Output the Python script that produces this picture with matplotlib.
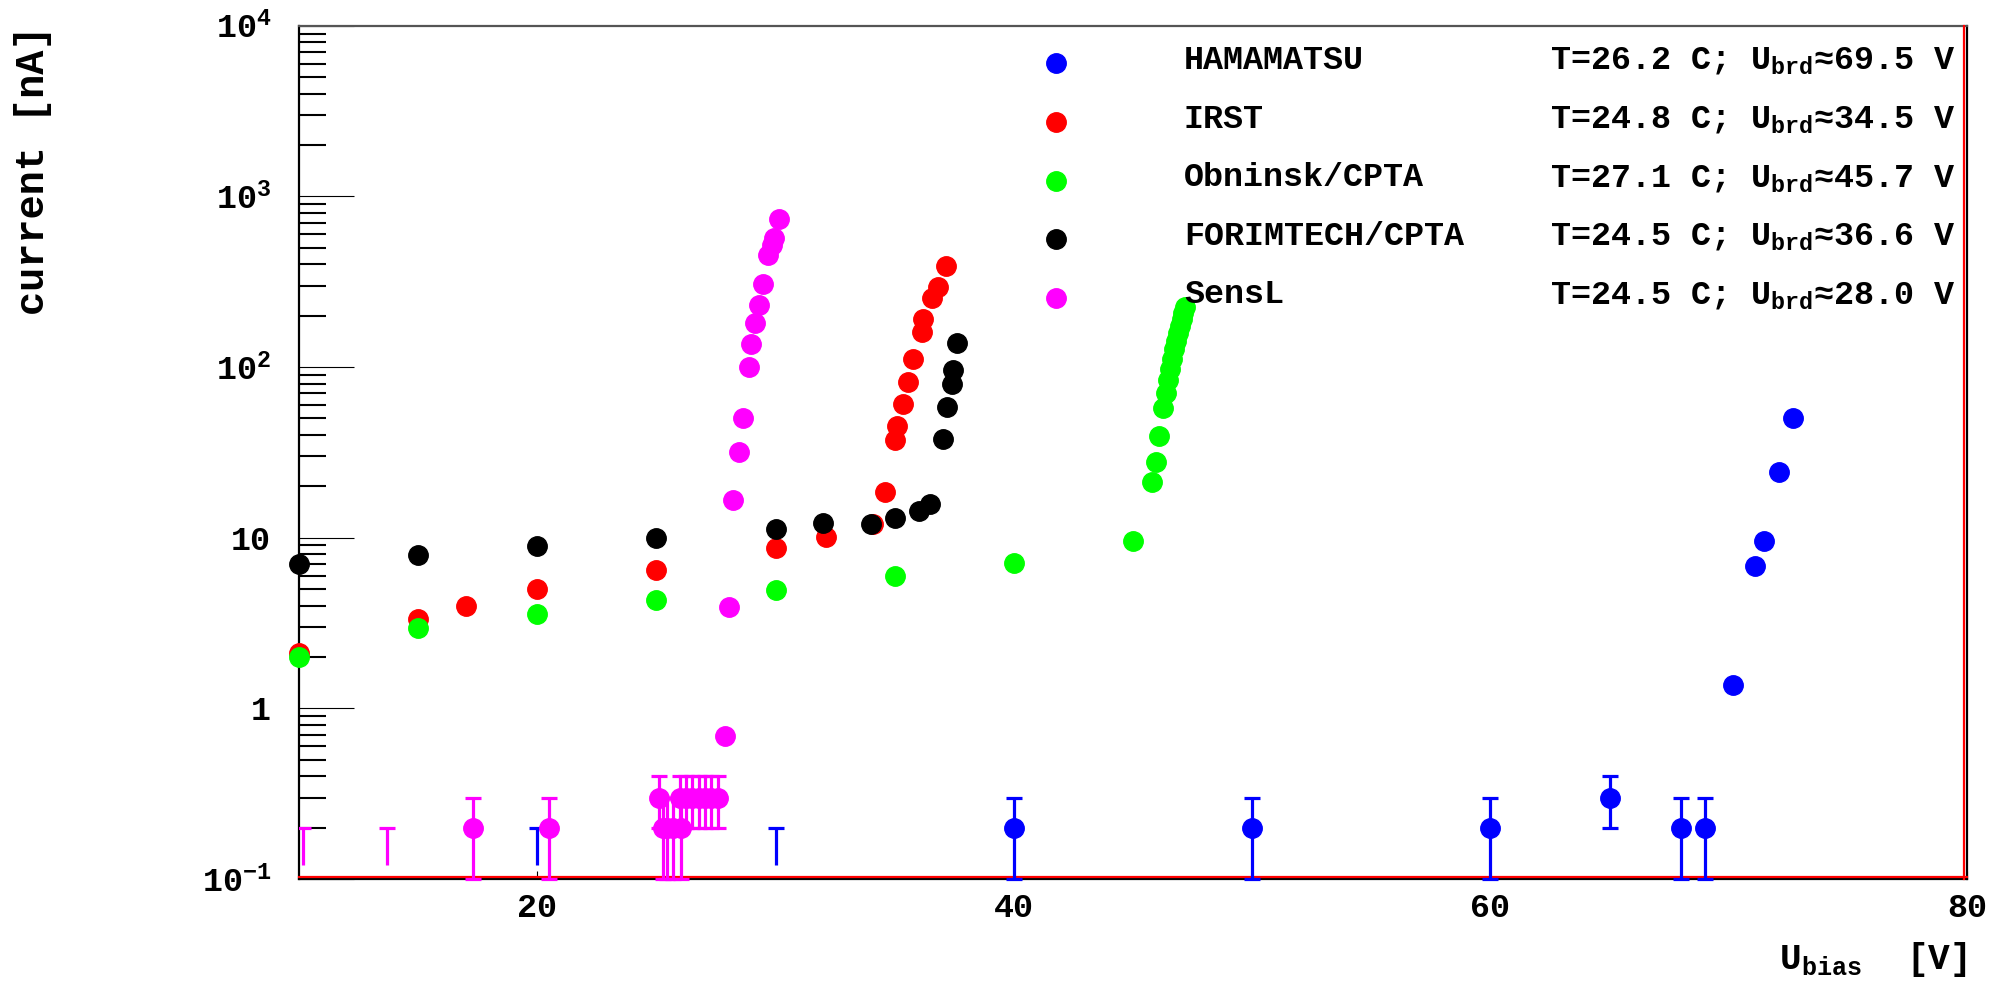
import numpy as np
import matplotlib
matplotlib.use("Agg")
import matplotlib.pyplot as plt

# ---------------- data ----------------
ham_x = [20, 30, 40, 50, 60, 65, 68, 69, 70.2, 71.1, 71.5, 72.1, 72.7]
ham_y = [0.1, 0.1, 0.2, 0.2, 0.2, 0.3, 0.2, 0.2, 1.37, 6.8, 9.6, 24.4, 50.0]
ham_err = [0.1, 0.1, 0.1, 0.1, 0.1, 0.1, 0.1, 0.1, 0, 0, 0, 0, 0]

irst_x = [10, 15, 17, 20, 25, 30, 32.1, 34.1, 34.6, 35.0, 35.1, 35.36, 35.54,
          35.78, 36.13, 36.2, 36.55, 36.8, 37.15]
irst_y = [2.1, 3.35, 4.0, 5.0, 6.5, 8.7, 10.1, 12.0, 18.4, 37.4, 45.2, 60.8, 81.5,
          112, 161, 190, 253, 293, 391]
irst_err = [0] * len(irst_x)

obn_x = [10, 15, 20, 25, 30, 35, 40, 45, 45.78, 45.96, 46.1, 46.27, 46.38, 46.48,
         46.56, 46.64, 46.72, 46.8, 46.88, 46.96, 47.04, 47.11, 47.18]
obn_y = [2.0, 2.95, 3.55, 4.3, 4.95, 6.0, 7.1, 9.6, 21.3, 27.9, 39.6, 57.4, 70, 84,
         98, 112, 128, 142, 158, 175, 192, 208, 226]
obn_err = [0] * len(obn_x)

fori_x = [10, 15, 20, 25, 30, 32, 34, 35, 36, 36.5, 37.04, 37.18, 37.39, 37.46, 37.6]
fori_y = [7.0, 7.9, 8.9, 9.9, 11.2, 12.2, 12.0, 13.0, 14.3, 15.7, 37.9, 58.6, 79.6,
          96.2, 139]
fori_err = [0] * len(fori_x)

sens_x = [10.15, 13.7, 17.3, 20.5, 25.1, 25.26, 25.45, 25.69, 26.04, 26.0, 26.25,
          26.5, 26.8, 27.05, 27.3, 27.6, 27.88, 28.06, 28.23, 28.48, 28.65, 28.88,
          28.97, 29.14, 29.3, 29.48, 29.7, 29.85, 29.95, 30.15]
sens_y = [0.1, 0.1, 0.2, 0.2, 0.3, 0.2, 0.2, 0.2, 0.2, 0.3, 0.3, 0.3, 0.3, 0.3, 0.3,
          0.3, 0.687, 3.95, 16.7, 31.8, 50.6, 100, 137, 180, 232, 308, 452, 520,
          573, 734]
sens_err = [0.1] * 16 + [0] * 14

names = ["HAMAMATSU", "IRST", "Obninsk/CPTA", "FORIMTECH/CPTA", "SensL"]
temps = [26.2, 24.8, 27.1, 24.5, 24.5]
ubrd = [69.5, 34.5, 45.7, 36.6, 28.0]
colors = ["#0000ff", "#ff0000", "#00ff00", "#000000", "#ff00ff"]

xticks = [20, 40, 60, 80]
xticklabels = ["20", "40", "60", "80"]
yticks = [0.1, 1, 10, 100, 1000, 10000]
yticklabels = [r"$\mathregular{10^{-1}}$", "1", "10", r"$\mathregular{10^{2}}$",
               r"$\mathregular{10^{3}}$", r"$\mathregular{10^{4}}$"]

# ---------------- style ----------------
plt.rcParams["font.family"] = ["Liberation Mono", "DejaVu Sans Mono"]
plt.rcParams["font.weight"] = "bold"
plt.rcParams["mathtext.default"] = "regular"

W, H = 1997, 989
fig = plt.figure(figsize=(W / 100, H / 100), dpi=100)
L, R, T, B = 299, 1967, 25.7, 879
ax = fig.add_axes([L / W, 1 - B / H, (R - L) / W, (B - T) / H])
ax.set_yscale("log")
ax.set_xlim(10, 80)
ax.set_ylim(0.1, 1e4)
YMIN = 0.1
GAP = 1.2
MS = 14

series = [
    (ham_x, ham_y, ham_err),
    (irst_x, irst_y, irst_err),
    (obn_x, obn_y, obn_err),
    (fori_x, fori_y, fori_err),
    (sens_x, sens_y, sens_err),
]

for (xs, ys, es), c in zip(series, colors):
    x = np.asarray(xs, float)
    y = np.asarray(ys, float)
    e = np.asarray(es, float)
    has = e > 0
    vis = y > YMIN * 1.0001
    lo = np.where(vis, y - e, y * GAP)
    hi = y + e
    if has.any():
        ax.vlines(x[has], lo[has], hi[has], colors=c, lw=2.3, zorder=3)
        ax.plot(x[has], hi[has], ls="none", marker="_", ms=11, mew=2.3,
                color=c, zorder=3)
        lc = has & vis & ((y - e) > 0)
        ax.plot(x[lc], (y - e)[lc], ls="none", marker="_", ms=11, mew=2.3,
                color=c, zorder=3, clip_on=False)
    ax.plot(x[vis], y[vis], ls="none", marker="o", ms=MS, color=c, mec=c,
            zorder=4, clip_on=False)

# legend (inside frame, no box)
ym0 = (B - 63.3) / (B - T)
dy = 58.6 / (B - T)
base_off = 5.7 / (B - T)
for i, (n, t, u, c) in enumerate(zip(names, temps, ubrd, colors)):
    yy = ym0 - i * dy
    ax.plot([(1056 - L) / (R - L)], [yy], transform=ax.transAxes, ls="none",
            marker="o", ms=MS, color=c, zorder=5, clip_on=False)
    ax.text((1184 - L) / (R - L), yy - base_off, n, transform=ax.transAxes,
            fontsize=24, fontweight="bold", va="baseline", ha="left", zorder=5)
    ax.text((1550 - L) / (R - L), yy - base_off,
            f"T={t:.1f} C; U" + r"$_{\mathregular{brd}}$" + f"\u2248{u:.1f} V",
            transform=ax.transAxes, fontsize=24, fontweight="bold",
            va="baseline", ha="left", zorder=5)

# ticks
ax.set_xticks(xticks)
ax.set_xticklabels(xticklabels)
ax.set_yticks(yticks)
ax.set_yticklabels(yticklabels)
ax.yaxis.set_minor_locator(matplotlib.ticker.LogLocator(base=10, subs=np.arange(2, 10)))
ax.yaxis.set_minor_formatter(matplotlib.ticker.NullFormatter())
ax.tick_params(axis="y", which="major", direction="in", length=39.6, width=0.8,
               labelsize=24, pad=20, right=False)
ax.tick_params(axis="y", which="minor", direction="in", length=19.4, width=1.5,
               right=False)
ax.tick_params(axis="x", which="major", direction="in", length=5.5, width=0.8,
               labelsize=24, pad=10, top=False)
ax.tick_params(axis="x", which="minor", bottom=False, top=False)
for lab in ax.get_xticklabels() + ax.get_yticklabels():
    lab.set_fontweight("bold")

# frame
for s in ["left", "bottom", "right"]:
    ax.spines[s].set_color("black")
    ax.spines[s].set_linewidth(1.6)
ax.spines["top"].set_color("#555555")
ax.spines["top"].set_linewidth(1.6)
ax.plot([0, 1], [0.002, 0.002], transform=ax.transAxes, color="red", lw=1.6,
        zorder=2.6, clip_on=False)
ax.plot([0.9985, 0.9985], [0, 1], transform=ax.transAxes, color="red", lw=1.6,
        zorder=2.6, clip_on=False)

# axis labels
ax.set_ylabel("current [nA]", fontsize=29, fontweight="bold", loc="top")
ax.yaxis.set_label_coords((52 - L) / (R - L), 1.0)
ax.set_xlabel(r"U$_{\mathregular{bias}}$  [V]", fontsize=26, fontweight="bold",
              loc="right")
ax.xaxis.set_label_coords(1.0, (B - 940) / (B - T))

fig.savefig("out.png", dpi=100)
